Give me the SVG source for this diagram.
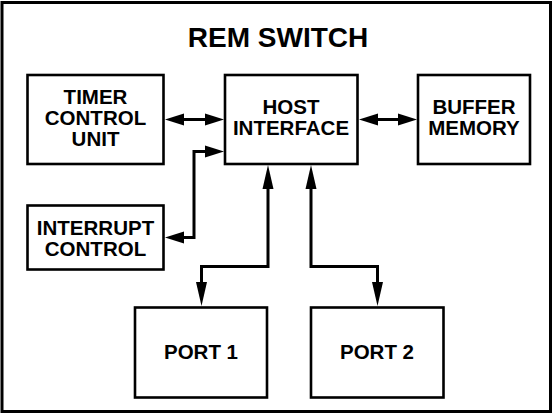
<svg xmlns="http://www.w3.org/2000/svg" width="553" height="414" viewBox="0 0 553 414">
<style>
.box{fill:#fff;stroke:#000;stroke-width:2.6}
.lbl{font-family:"Liberation Sans",Arial,sans-serif;font-weight:bold;font-size:20.5px;text-anchor:middle;fill:#000}
.title{font-family:"Liberation Sans",Arial,sans-serif;font-weight:bold;font-size:28px;text-anchor:middle;fill:#000}
.con{fill:none;stroke:#000;stroke-width:3}
</style>
<defs>
<path id="arrH" d="M0,0 L-19,-6 L-19,6 z" fill="#000"/>
<path id="arrV" d="M0,0 L-24,-5.5 L-24,5.5 z" fill="#000"/>
</defs>
<rect x="0" y="0" width="553" height="414" fill="#fff"/>
<rect id="frame" x="2" y="2.5" width="548.5" height="409" fill="none" stroke="#000" stroke-width="3"/>
<text class="title" x="278" y="47">REM SWITCH</text>
<g id="timer"><rect class="box" x="27.5" y="75" width="136" height="89"/><text class="lbl" x="95.5" y="103.5">TIMER</text><text class="lbl" x="95.5" y="124.5">CONTROL</text><text class="lbl" x="95.5" y="145.5">UNIT</text></g>
<g id="host"><rect class="box" x="225" y="75" width="132.5" height="89"/><text class="lbl" x="291" y="113.5">HOST</text><text class="lbl" x="291" y="135">INTERFACE</text></g>
<g id="buffer"><rect class="box" x="418" y="75" width="112" height="89"/><text class="lbl" x="474" y="113.5">BUFFER</text><text class="lbl" x="474" y="135">MEMORY</text></g>
<g id="interrupt"><rect class="box" x="27.5" y="205.5" width="136" height="64"/><text class="lbl" x="95.5" y="234.5">INTERRUPT</text><text class="lbl" x="95.5" y="255.5">CONTROL</text></g>
<g id="port1"><rect class="box" x="135" y="307.5" width="132" height="90"/><text class="lbl" x="201" y="358.5">PORT 1</text></g>
<g id="port2"><rect class="box" x="311" y="307.5" width="132.5" height="90"/><text class="lbl" x="377" y="358.5">PORT 2</text></g>
<g id="connectors">
<path class="con" d="M180 119.5 H209"/>
<path class="con" d="M374 119.5 H402"/>
<path class="con" d="M180 237.5 H194 V151.5 H209"/>
<path class="con" d="M268 185 V266.5 H201.5 V290"/>
<path class="con" d="M311 185 V266.5 H377.5 V290"/>
<use href="#arrH" transform="translate(165,119.5) rotate(180)"/>
<use href="#arrH" transform="translate(224,119.5)"/>
<use href="#arrH" transform="translate(359,119.5) rotate(180)"/>
<use href="#arrH" transform="translate(417,119.5)"/>
<use href="#arrH" transform="translate(224,151.5)"/>
<use href="#arrH" transform="translate(165,237.5) rotate(180)"/>
<use href="#arrV" transform="translate(268,165) rotate(-90)"/>
<use href="#arrV" transform="translate(311,165) rotate(-90)"/>
<use href="#arrV" transform="translate(201.5,306) rotate(90)"/>
<use href="#arrV" transform="translate(377.5,306) rotate(90)"/>
</g>
</svg>
